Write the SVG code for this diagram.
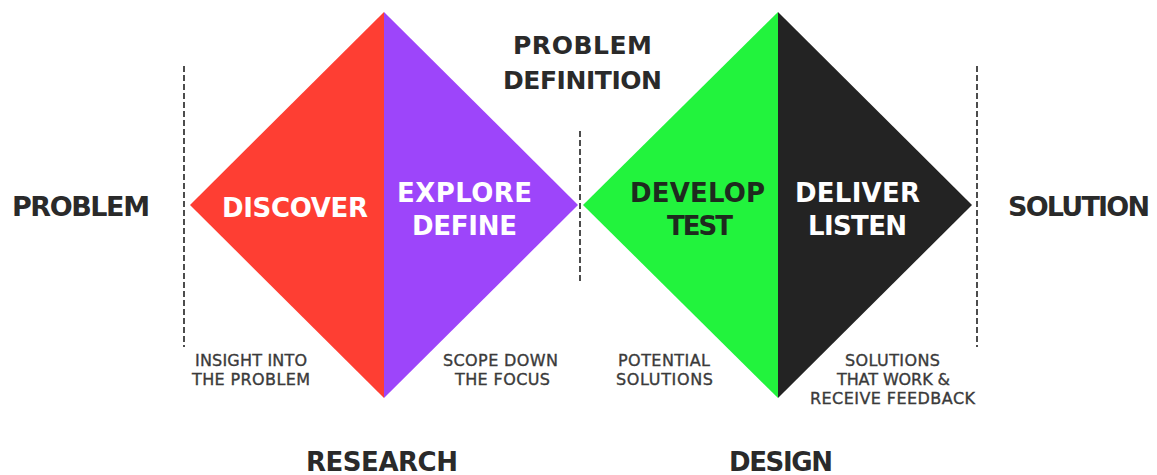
<svg xmlns="http://www.w3.org/2000/svg" width="1157" height="475" viewBox="0 0 1157 475">
  <style>
    .big { font-family: "DejaVu Sans", "Liberation Sans", sans-serif; font-weight: bold; }
    .small { font-family: "DejaVu Sans", "Liberation Sans", sans-serif; font-size: 16px; fill: #3a3a3a; stroke: #3a3a3a; stroke-width: 0.35; }
    .dark { fill: #2a2a2a; }
    .light { fill: #ffffff; }
    .divider { stroke: #3a3a3a; stroke-width: 1.8; stroke-dasharray: 6 3; fill: none; }
  </style>
  <rect width="1157" height="475" fill="#ffffff"/>

  <!-- dashed stage dividers -->
  <g id="connectors">
    <line class="divider" x1="184" y1="66" x2="184" y2="347"/>
    <line class="divider" x1="580" y1="131" x2="580" y2="283"/>
    <line class="divider" x1="977" y1="66" x2="977" y2="347"/>
  </g>

  <!-- first diamond -->
  <g id="discover">
    <polygon points="190,205 384,12 384,398" fill="#fe3e33"/>
    <text class="big light" x="222" y="217" font-size="26" textLength="146">DISCOVER</text>
  </g>
  <g id="define">
    <polygon points="384,12 578,205 384,398" fill="#9d45fa"/>
    <text class="big light" x="397" y="202" font-size="26" textLength="135">EXPLORE</text>
    <text class="big light" x="412" y="235" font-size="26" textLength="105">DEFINE</text>
  </g>

  <!-- second diamond -->
  <g id="develop">
    <polygon points="583,205 778,12 778,398" fill="#22f33d"/>
    <text class="big" x="630" y="202" font-size="26" textLength="135" fill="#1e2a1e">DEVELOP</text>
    <text class="big" x="667" y="235" font-size="26" textLength="66" fill="#1e2a1e">TEST</text>
  </g>
  <g id="deliver">
    <polygon points="778,12 972,205 778,398" fill="#232323"/>
    <text class="big light" x="795" y="202" font-size="26" textLength="125">DELIVER</text>
    <text class="big light" x="808" y="235" font-size="26" textLength="99">LISTEN</text>
  </g>

  <!-- outer labels -->
  <g id="problem">
    <text class="big dark" x="12" y="216" font-size="27" textLength="138">PROBLEM</text>
  </g>
  <g id="solution">
    <text class="big dark" x="1008" y="216" font-size="27" textLength="142">SOLUTION</text>
  </g>
  <g id="problem-definition">
    <text class="big dark" x="513" y="54" font-size="25" textLength="139">PROBLEM</text>
    <text class="big dark" x="503" y="89" font-size="25" textLength="159">DEFINITION</text>
  </g>
  <g id="research">
    <text class="big dark" x="306" y="471" font-size="26" textLength="152">RESEARCH</text>
  </g>
  <g id="design">
    <text class="big dark" x="729" y="471" font-size="26" textLength="104">DESIGN</text>
  </g>

  <!-- stage outcomes -->
  <g id="insight">
    <text class="small" x="195" y="366" textLength="112">INSIGHT INTO</text>
    <text class="small" x="192" y="385" textLength="118">THE PROBLEM</text>
  </g>
  <g id="scope">
    <text class="small" x="443" y="366" textLength="115">SCOPE DOWN</text>
    <text class="small" x="455" y="385" textLength="95">THE FOCUS</text>
  </g>
  <g id="potential">
    <text class="small" x="618" y="366" textLength="92">POTENTIAL</text>
    <text class="small" x="616" y="385" textLength="97">SOLUTIONS</text>
  </g>
  <g id="feedback">
    <text class="small" x="845" y="366" textLength="95">SOLUTIONS</text>
    <text class="small" x="837" y="385" textLength="113">THAT WORK &amp;</text>
    <text class="small" x="810" y="404" textLength="165">RECEIVE FEEDBACK</text>
  </g>
</svg>
